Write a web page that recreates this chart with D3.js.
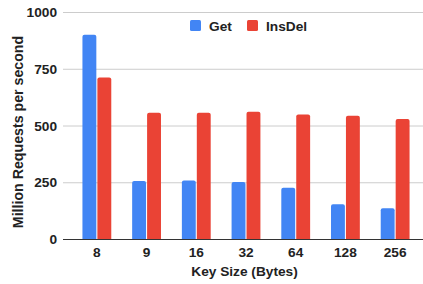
<!DOCTYPE html>
<html>
<head>
<meta charset="utf-8">
<script src="https://cdn.jsdelivr.net/npm/d3@7"></script>
<style>
  body { margin: 0; background: #fff; }
  text { font-family: "Liberation Sans", Arial, sans-serif; font-weight: bold; fill: #222; }
</style>
</head>
<body>
<svg id="chart" width="423" height="284"></svg>
<script>
// chart values
var keySizes = ["8", "9", "16", "32", "64", "128", "256"]
var getValues = [900, 255, 258, 251, 226, 153, 135]
var insDelValues = [712, 556, 556, 561, 549, 543, 529]
var seriesNames = ["Get", "InsDel"]
var seriesColors = ["#4285F4", "#EA4335"]
var yTicks = [0, 250, 500, 750, 1000]

var svg = d3.select('#chart')

var plot = { left: 63, right: 423, top: 12, bottom: 239 }

var x = d3.scaleBand()
    .domain(keySizes)
    .range([72, 420])
    .paddingInner(0.42)
    .paddingOuter(0.21)

var xSeries = d3.scaleBand()
    .domain(seriesNames)
    .range([0, x.bandwidth()])
    .paddingInner(0.07)

var y = d3.scaleLinear()
    .domain([0, 1000])
    .range([plot.bottom, plot.top])

// gridlines
svg.append('g')
    .selectAll('line')
    .data(yTicks.filter(function(d){ return d > 0 }))
    .enter()
    .append('line')
    .attr('x1', plot.left)
    .attr('x2', plot.right)
    .attr('y1', function(d){ return y(d) + 0.5 })
    .attr('y2', function(d){ return y(d) + 0.5 })
    .attr('stroke', '#cccccc')
    .attr('stroke-width', 1)

// y tick labels
svg.append('g')
    .selectAll('text')
    .data(yTicks)
    .enter()
    .append('text')
    .attr('x', 57)
    .attr('y', function(d){ return y(d) + 5 })
    .attr('text-anchor', 'end')
    .style('font-size', '13.7px')
    .text(function(d){ return d })

// bars
var rows = keySizes.map(function(k, i){
    return { key: k, values: [getValues[i], insDelValues[i]] }
})

var groups = svg.append('g')
    .selectAll('g')
    .data(rows)
    .enter()
    .append('g')
    .attr('transform', function(d){ return 'translate(' + x(d.key) + ',0)' })

groups.selectAll('path')
    .data(function(d){ return d.values.map(function(v, j){ return { name: seriesNames[j], value: v, color: seriesColors[j] } }) })
    .enter()
    .append('path')
    .attr('fill', function(d){ return d.color })
    .attr('d', function(d){
        var x0 = xSeries(d.name), w = xSeries.bandwidth()
        var y0 = y(d.value), y1 = y(0), r = 2
        return 'M' + x0 + ',' + y1 +
            'V' + (y0 + r) +
            'Q' + x0 + ',' + y0 + ' ' + (x0 + r) + ',' + y0 +
            'H' + (x0 + w - r) +
            'Q' + (x0 + w) + ',' + y0 + ' ' + (x0 + w) + ',' + (y0 + r) +
            'V' + y1 + 'Z'
    })

// baseline
svg.append('line')
    .attr('x1', plot.left)
    .attr('x2', plot.right)
    .attr('y1', y(0) + 0.5)
    .attr('y2', y(0) + 0.5)
    .attr('stroke', '#333333')
    .attr('stroke-width', 1)

// x tick labels
svg.append('g')
    .selectAll('text')
    .data(keySizes)
    .enter()
    .append('text')
    .attr('x', function(d){ return x(d) + x.bandwidth() / 2 })
    .attr('y', 257)
    .attr('text-anchor', 'middle')
    .style('font-size', '13.7px')
    .text(function(d){ return d })

// axis titles
svg.append('text')
    .attr('x', 244.5)
    .attr('y', 276)
    .attr('text-anchor', 'middle')
    .style('font-size', '13.7px')
    .text('Key Size (Bytes)')

svg.append('text')
    .attr('transform', 'translate(23,132) rotate(-90)')
    .attr('text-anchor', 'middle')
    .style('font-size', '14.2px')
    .text('Million Requests per second')

// legend
var legendX = [190, 247]
var legend = svg.append('g')
    .selectAll('g')
    .data(seriesNames)
    .enter()
    .append('g')
    .attr('transform', function(d, i){ return 'translate(' + legendX[i] + ',20)' })

legend.append('rect')
    .attr('width', 11)
    .attr('height', 11)
    .attr('rx', 1.5)
    .attr('fill', function(d, i){ return seriesColors[i] })

legend.append('text')
    .attr('x', 19)
    .attr('y', 10.5)
    .style('font-size', '13.7px')
    .text(function(d){ return d })
</script>
</body>
</html>
